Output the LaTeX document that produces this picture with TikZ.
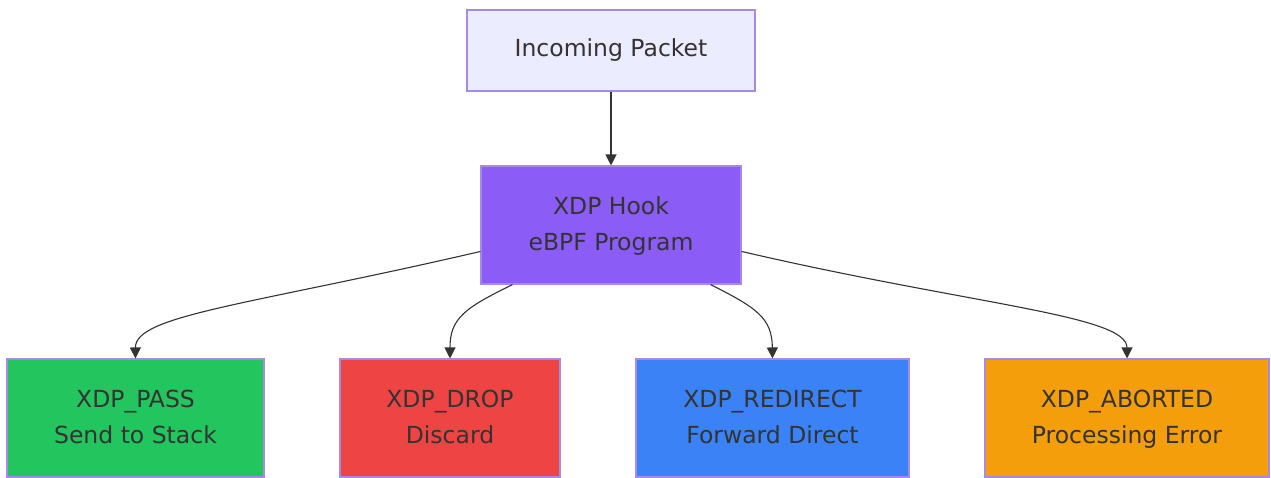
\documentclass[tikz,border=0pt]{standalone}
\usepackage{fontspec}
\setmainfont{DejaVu Sans}
\usetikzlibrary{arrows.meta,calc}
\definecolor{txt}{HTML}{333333}
\definecolor{bord}{HTML}{A58AE6}
\definecolor{inc}{HTML}{ECECFF}
\definecolor{hook}{HTML}{8B5CF6}
\definecolor{cpass}{HTML}{22C55E}
\definecolor{cdrop}{HTML}{EF4444}
\definecolor{credir}{HTML}{3B82F6}
\definecolor{cabort}{HTML}{F59E0B}
\definecolor{edge}{HTML}{333333}
\newcommand{\twol}[2]{#1\strut\\#2\strut}
\tikzset{
  box/.style={draw=bord, line width=1.1pt, text=txt, align=center, inner sep=0pt,
    font=\fontsize{23.5}{36}\selectfont},
  conn/.style={draw=edge, line width=1.1pt, -{Triangle[length=11pt,width=11pt]}},
}
\begin{document}
\begin{tikzpicture}[x=1pt,y=-1pt]
\useasboundingbox (0,0) rectangle (1271,477);
\node[box, fill=inc, minimum width=288pt, minimum height=81pt] (in) at (611,50.5) {Incoming Packet};
\node[box, fill=hook, minimum width=260pt, minimum height=118pt] (xdp) at (611,225) {\twol{XDP Hook}{eBPF Program}};
\node[box, fill=cpass, minimum width=257pt, minimum height=118pt] (pass) at (135.5,418) {\twol{XDP\_PASS}{Send to Stack}};
\node[box, fill=cdrop, minimum width=220pt, minimum height=118pt] (drop) at (450,418) {\twol{XDP\_DROP}{Discard}};
\node[box, fill=credir, minimum width=273pt, minimum height=118pt] (redir) at (772.5,418) {\twol{XDP\_REDIRECT}{Forward Direct}};
\node[box, fill=cabort, minimum width=284pt, minimum height=118pt] (abort) at (1127,418) {\twol{XDP\_ABORTED}{Processing Error}};
\coordinate (xl) at ($(xdp.north west)+(0,86)$);
\coordinate (xr) at ($(xdp.north east)+(0,86)$);
\coordinate (xbl) at ($(xdp.south west)+(32,0)$);
\coordinate (xbr) at ($(xdp.south east)+(-31,0)$);
\draw[conn] (in.south) -- (xdp.north);
\draw[conn] (xl) .. controls (250,305) and (135,315) .. (pass.north);
\draw[conn] (xbl) .. controls (465,308) and (450,318) .. (drop.north);
\draw[conn] (xbr) .. controls (757,308) and (772,318) .. (redir.north);
\draw[conn] (xr) .. controls (972,305) and (1127,315) .. (abort.north);
\end{tikzpicture}
\end{document}
